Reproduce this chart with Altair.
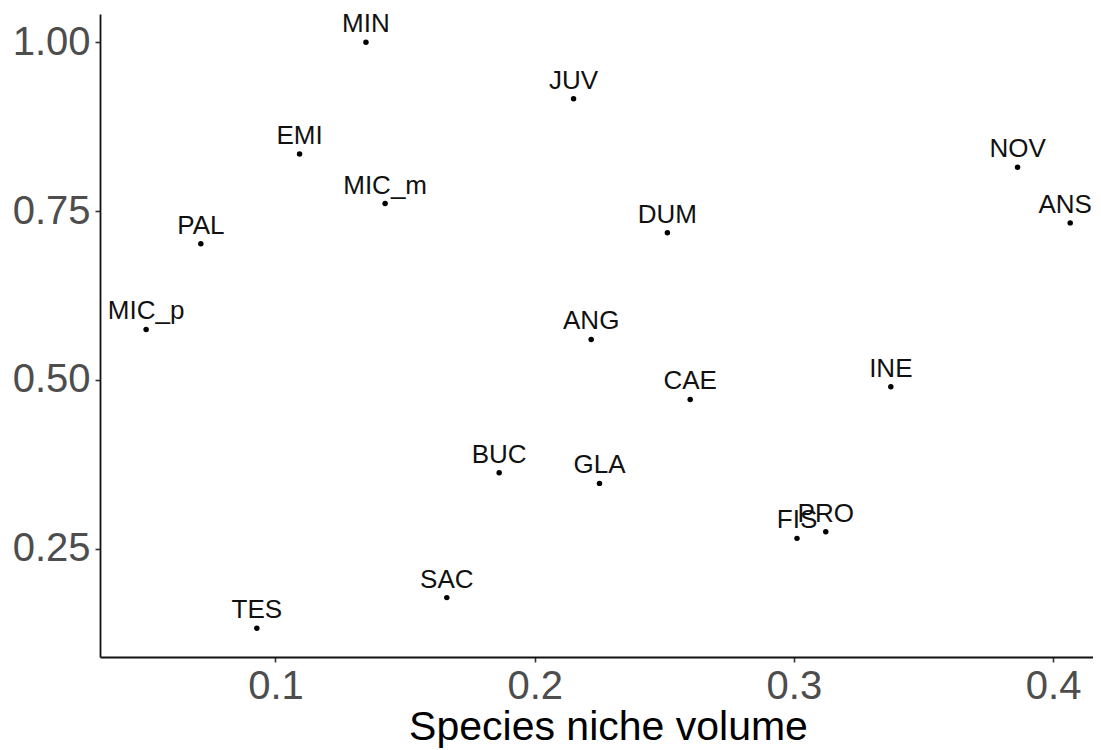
import altair as alt
import pandas as pd

species = ["MIN", "JUV", "EMI", "MIC_m", "NOV", "ANS", "PAL", "DUM", "MIC_p",
           "ANG", "CAE", "INE", "BUC", "GLA", "FIS", "PRO", "SAC", "TES"]
niche_volume = [0.1349, 0.2150, 0.1093, 0.1423, 0.3863, 0.4066, 0.0712, 0.2512, 0.0501,
                0.2218, 0.2600, 0.3374, 0.1863, 0.2250, 0.3012, 0.3123, 0.1661, 0.0928]
y_value = [1.000, 0.9164, 0.8346, 0.7611, 0.8148, 0.7325, 0.7015, 0.7178, 0.5747,
           0.5599, 0.4712, 0.4899, 0.3627, 0.3469, 0.2655, 0.2754, 0.1778, 0.1324]
x_ticks = [0.1, 0.2, 0.3, 0.4]
y_ticks = [0.25, 0.50, 0.75, 1.00]
x_title = "Species niche volume"
edge_species = ["ANS"]  # label that sits on the cropped right edge

df = pd.DataFrame({"species": species, "x": niche_volume, "y": y_value})

FONT = "Liberation Sans"

xscale = alt.Scale(domain=[0.0323, 0.4154], nice=False, zero=False)
yscale = alt.Scale(domain=[0.0899, 1.0417], nice=False, zero=False)

xaxis = alt.Axis(values=x_ticks, format=".1f", grid=False,
                 labelFont=FONT, labelFontSize=40, labelColor="#4D4D4D",
                 labelBaseline="alphabetic", labelPadding=36,
                 tickSize=5, tickColor="#333333", tickWidth=1.6,
                 domainColor="#111111", domainWidth=1.8,
                 titleFont=FONT, titleFontSize=41, titleColor="#000000",
                 titleFontWeight="normal", titleX=508, titleY=82,
                 titleAlign="center", titleBaseline="alphabetic",
                 labelFlush=False, labelOverlap=False)
yaxis = alt.Axis(values=y_ticks, format=".2f", grid=False,
                 labelFont=FONT, labelFontSize=40, labelColor="#4D4D4D",
                 labelBaseline="middle", labelPadding=5,
                 tickSize=5, tickColor="#333333", tickWidth=1.6,
                 domainColor="#111111", domainWidth=1.8,
                 labelFlush=False, labelOverlap=False)

base = alt.Chart(df)

points = base.mark_circle(size=30, color="#000000", opacity=1).encode(
    x=alt.X("x:Q", scale=xscale, axis=xaxis, title=x_title),
    y=alt.Y("y:Q", scale=yscale, axis=yaxis, title=""),
)

text_enc = dict(
    x=alt.X("x:Q", scale=xscale),
    y=alt.Y("y:Q", scale=yscale),
    text="species:N",
)

labels = base.mark_text(font=FONT, fontSize=26, color="#111111",
                        baseline="alphabetic", align="center", dy=-10).encode(
    **text_enc
).transform_filter(alt.FieldOneOfPredicate(field="species", oneOf=species[:5] + species[6:]))

edge_labels = base.mark_text(font=FONT, fontSize=26, color="#111111",
                             baseline="alphabetic", align="center", dy=-10, dx=-5).encode(
    **text_enc
).transform_filter(alt.FieldOneOfPredicate(field="species", oneOf=edge_species))

chart = (points + labels + edge_labels).properties(
    width=993, height=643,
    padding={"left": 92, "top": 6, "right": 0, "bottom": 93},
    autosize=alt.AutoSizeParams(type="none"),
    background="#ffffff",
).configure_view(strokeWidth=0)

chart.save("out.html", embed_options={"renderer": "svg", "actions": False})
